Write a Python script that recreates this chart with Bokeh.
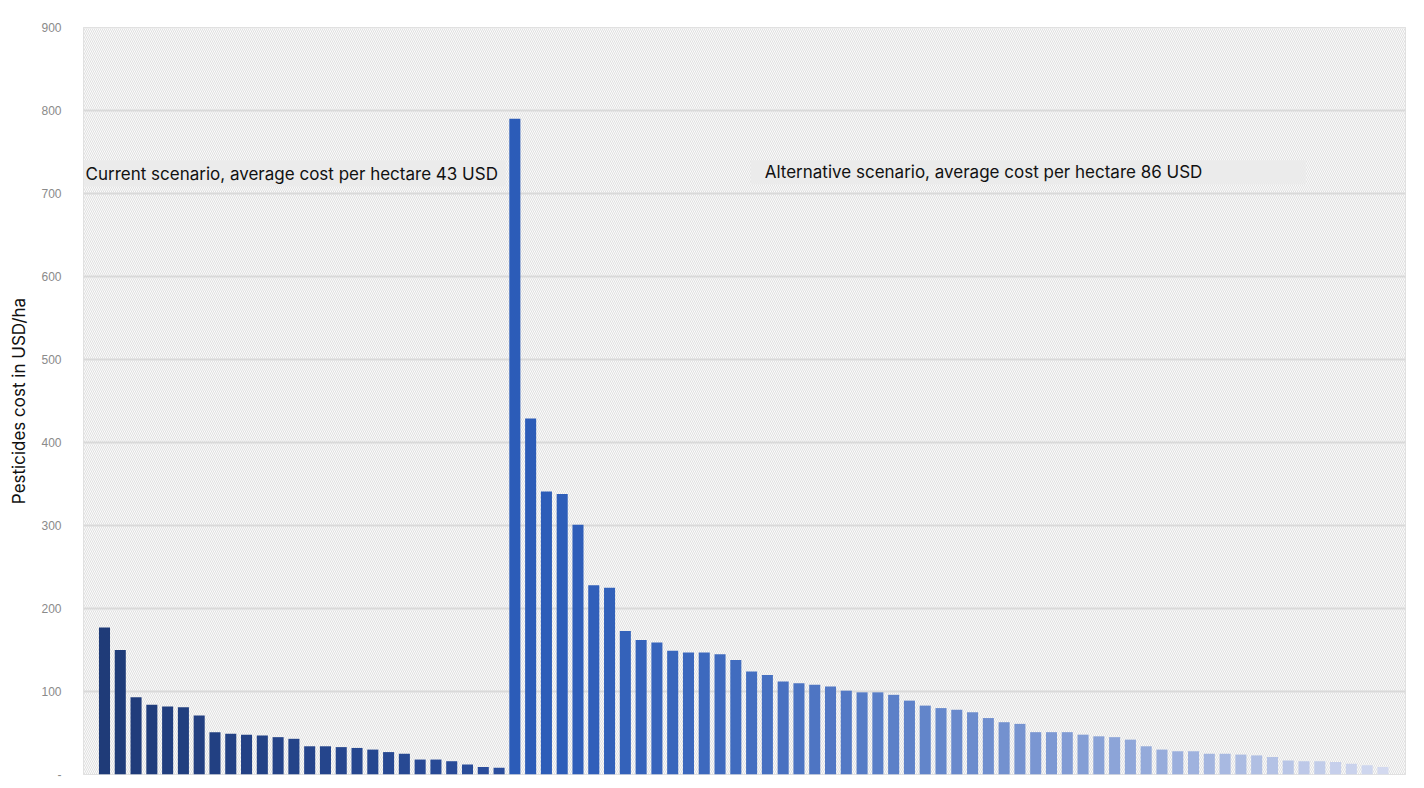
import numpy as np
from bokeh.plotting import figure
from bokeh.models import ColumnDataSource, Range1d, BoxAnnotation, Label, FixedTicker
from bokeh.embed import file_html
from bokeh.resources import INLINE

# ---- data ----
current_values = [177, 150, 93, 84, 82, 81, 71, 51, 49, 48, 47, 45, 43, 34, 34, 33,
                  32, 30, 27, 25, 18, 18, 16, 12, 9, 8]
alternative_values = [790, 429, 341, 338, 301, 228, 225, 173, 162, 159, 149, 147, 147,
                      145, 138, 124, 120, 112, 110, 108, 106, 101, 99, 99, 96, 89, 83,
                      80, 78, 75, 68, 63, 61, 51, 51, 51, 48, 46, 45, 42, 34, 30, 28,
                      28, 25, 25, 24, 23, 21, 17, 16, 16, 15, 13, 11, 9]
y_ticks = [0, 100, 200, 300, 400, 500, 600, 700, 800, 900]
current_label = "Current scenario, average cost per hectare 43 USD"
alternative_label = "Alternative scenario, average cost per hectare 86 USD"
y_title = "Pesticides cost in USD/ha"

# ---- colours ----
def hex2rgb(h):
    h = h.lstrip("#")
    return np.array([int(h[i:i + 2], 16) for i in (0, 2, 4)], dtype=float)

def grad(c0, c1, n, power=1.0):
    a, b = hex2rgb(c0), hex2rgb(c1)
    out = []
    for i in range(n):
        t = (i / max(n - 1, 1)) ** power
        c = a + (b - a) * t
        out.append("#%02x%02x%02x" % tuple(int(round(v)) for v in c))
    return out

n_cur = len(current_values)
n_alt = len(alternative_values)
colors = grad("#1f3b78", "#2a4d9c", n_cur) + grad("#2c5cb8", "#d3d9ef", n_alt, 1.5)
values = current_values + alternative_values
xs = list(range(n_cur + n_alt))

src = ColumnDataSource(dict(x=xs, top=values, color=colors))

p = figure(width=1424, height=788, output_backend="svg", toolbar_location=None,
           x_range=Range1d(-1.33, n_cur + n_alt - 1 + 1.43), y_range=Range1d(0, 900),
           min_border_left=83, min_border_right=19, min_border_top=27, min_border_bottom=14)

p.background_fill_color = "white"
p.border_fill_color = "white"
p.outline_line_color = "#d9d9d9"
p.outline_line_width = 1

# hatched plot-area background
hatch = BoxAnnotation(fill_color="#fbfbfb", fill_alpha=1.0, line_color=None,
                      hatch_pattern="\\", hatch_color="#e0e0e0", hatch_scale=4,
                      hatch_weight=1, level="image")
p.add_layout(hatch)

# grey label boxes
p.quad(left=[-1.33, 40.94], right=[25.41, 76.11], top=[740, 740], bottom=[708.5, 711],
       fill_color="#ebebeb", line_color=None)

p.vbar(x="x", top="top", width=0.7, bottom=0, fill_color="color", line_color=None, source=src)

# axes
p.xaxis.visible = False
p.xgrid.visible = False
p.ygrid.grid_line_color = "#d9d9d9"
p.ygrid.grid_line_width = 2
yax = p.yaxis[0]
yax.ticker = FixedTicker(ticks=y_ticks)
yax.major_label_overrides = {0: "-"}
yax.axis_line_color = None
yax.major_tick_line_color = None
yax.minor_tick_line_color = None
yax.major_label_text_font = "Liberation Sans"
yax.major_label_text_font_size = "12px"
yax.major_label_text_color = "#8a8a8a"
yax.major_label_standoff = 16
yax.axis_label = y_title
yax.axis_label_text_font = "Inter"
yax.axis_label_text_font_size = "17px"
yax.axis_label_text_font_style = "normal"
yax.axis_label_text_color = "#111111"
yax.axis_label_standoff = 9

# scenario labels
p.add_layout(Label(x=-1.2, y=724, text=current_label, text_font="Inter",
                   text_font_size="17px", text_color="#111111",
                   text_baseline="middle", text_align="left"))
p.add_layout(Label(x=41.83, y=725.5, text=alternative_label, text_font="Inter",
                   text_font_size="17px", text_color="#111111",
                   text_baseline="middle", text_align="left"))

open("out.html", "w").write(file_html(p, INLINE))
